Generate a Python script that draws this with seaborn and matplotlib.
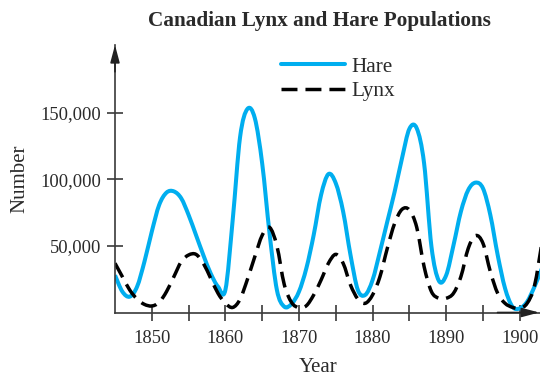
import matplotlib
matplotlib.use("Agg")
import matplotlib.pyplot as plt
from matplotlib.path import Path
from matplotlib.patches import PathPatch
from matplotlib.ticker import FuncFormatter
import seaborn as sns
import pandas as pd

# Annual population estimates (1845-1903)
years = list(range(1845, 1904))
hare = [28000, 15700, 11900, 19400, 38200, 60800, 80800, 90100, 91000, 85800,
        73300, 58300, 43200, 29400, 19400, 17000, 70000, 132000, 153000, 146000,
        112000, 59500, 16900, 4400, 6500, 15700, 33200, 58300, 88300, 104000,
        97100, 75800, 43200, 16900, 13200, 24400, 45700, 68300, 90800, 115900,
        138000, 138400, 112100, 49500, 23900, 28000, 50700, 75800, 92100, 97600,
        93300, 73300, 43200, 18200, 4400, 3100, 8100, 19400, 33000]
lynx = [37000, 26900, 16900, 10100, 6100, 4900, 7600, 15700, 26900, 38200,
        43200, 43700, 37000, 25700, 14400, 6900, 3800, 10000, 25000, 42000,
        58000, 64000, 50000, 21000, 7500, 3600, 5100, 13200, 24400, 37000,
        43700, 37000, 20700, 10100, 6900, 13200, 26900, 48200, 67000, 77500,
        77000, 64000, 34500, 15700, 10700, 10700, 14500, 26900, 48200, 57800,
        52000, 30700, 14400, 6900, 3900, 3100, 6900, 20000, 52000]

x_ticks = [1850, 1855, 1860, 1865, 1870, 1875, 1880, 1885, 1890, 1895, 1900]
y_ticks = [50000, 100000, 150000]

df = pd.DataFrame({"Year": years, "Hare": hare, "Lynx": lynx})


def smooth_path(xy):
    """Catmull-Rom curve through the given vertices, as cubic Bezier segments."""
    n = len(xy)
    verts = [tuple(xy[0])]
    codes = [Path.MOVETO]
    for i in range(n - 1):
        p0 = xy[max(i - 1, 0)]
        p1 = xy[i]
        p2 = xy[i + 1]
        p3 = xy[min(i + 2, n - 1)]
        c1 = p1 + (p2 - p0) / 6.0
        c2 = p2 - (p3 - p1) / 6.0
        verts += [tuple(c1), tuple(c2), tuple(p2)]
        codes += [Path.CURVE4] * 3
    return Path(verts, codes)


sns.set_theme(style="ticks")
plt.rcParams["font.family"] = ["Liberation Serif", "DejaVu Serif"]

W, H = 540, 375
fig = plt.figure(figsize=(W / 100, H / 100), dpi=100)
ax_left, ax_bottom = 115 / W, (H - 312.5) / H
ax_right, ax_top = 540 / W, (H - 45) / H
ax = fig.add_axes([ax_left, ax_bottom, ax_right - ax_left, ax_top - ax_bottom])

hare_color = "#00AEEF"
lynx_dash = (4.6, 2.3)
sns.lineplot(data=df, x="Year", y="Hare", ax=ax, color=hare_color,
             linewidth=2.9, label="Hare")
sns.lineplot(data=df, x="Year", y="Lynx", ax=ax, color="black",
             linewidth=2.5, label="Lynx")
ax.lines[1].set_dashes(lynx_dash)

ax.set_xlim(1845, 1902.75)
ax.set_ylim(0, 201000)

ax.set_xticks(x_ticks)
ax.set_xticklabels([str(t) if t % 10 == 0 else "" for t in x_ticks])
ax.set_yticks(y_ticks)
ax.yaxis.set_major_formatter(FuncFormatter(lambda v, p: f"{int(v):,}"))

text_color = "#2a2a2a"
axis_color = "#3a3a3a"
ax.tick_params(axis="both", direction="inout", length=11, width=1.2,
               color=axis_color, labelcolor=text_color, labelsize=13.3)
ax.tick_params(axis="y", pad=4.5)
ax.tick_params(axis="x", pad=7)

sns.despine(ax=ax)
for side in ("left", "bottom"):
    ax.spines[side].set_color(axis_color)
    ax.spines[side].set_linewidth(1.2)

# arrow heads at the end of each axis
arrow = dict(arrowstyle="-|>,head_length=0.75,head_width=0.2", mutation_scale=14,
             color="#222222", lw=1.2, shrinkA=0, shrinkB=0)
ax.annotate("", xy=(0, 1.0), xytext=(0, 0.9), xycoords="axes fraction",
            arrowprops=arrow, annotation_clip=False)
ax.annotate("", xy=(0.998, 0), xytext=(0.9, 0), xycoords="axes fraction",
            arrowprops=arrow, annotation_clip=False)

ax.set_xlabel("Year", fontsize=15, color=text_color)
ax.set_ylabel("Number", fontsize=15, color=text_color)
ax.xaxis.set_label_coords((318 - 115) / 425, -(367 - 312.5) / 267.5, transform=ax.transAxes)
ax.yaxis.set_label_coords(-(115 - 20) / 425, 0.5, transform=ax.transAxes)
ax.xaxis.label.set_va("center")
ax.yaxis.label.set_va("center")

fig.text(319 / W, 1 - 21 / H, "Canadian Lynx and Hare Populations",
         ha="center", va="center", fontsize=15.3, fontweight="bold", color=text_color)

leg = ax.legend(loc="upper left", bbox_to_anchor=(281 / W, 1 - 57 / H),
                bbox_transform=fig.transFigure, frameon=False, fontsize=15.3,
                handlelength=3.0, handletextpad=0.33, borderpad=0,
                borderaxespad=0, labelspacing=0.22)
for t in leg.get_texts():
    t.set_color(text_color)

# redraw each series as a smooth curve through its yearly values
for line in list(ax.lines[:2]):
    style = "-" if line.get_linestyle() == "-" else (0, lynx_dash)
    patch = PathPatch(smooth_path(line.get_xydata()), fill=False,
                      edgecolor=line.get_color(), linewidth=line.get_linewidth(),
                      linestyle=style, capstyle="butt", joinstyle="round",
                      zorder=line.get_zorder())
    ax.add_patch(patch)
    line.set_visible(False)

fig.savefig("out.png", dpi=100)
